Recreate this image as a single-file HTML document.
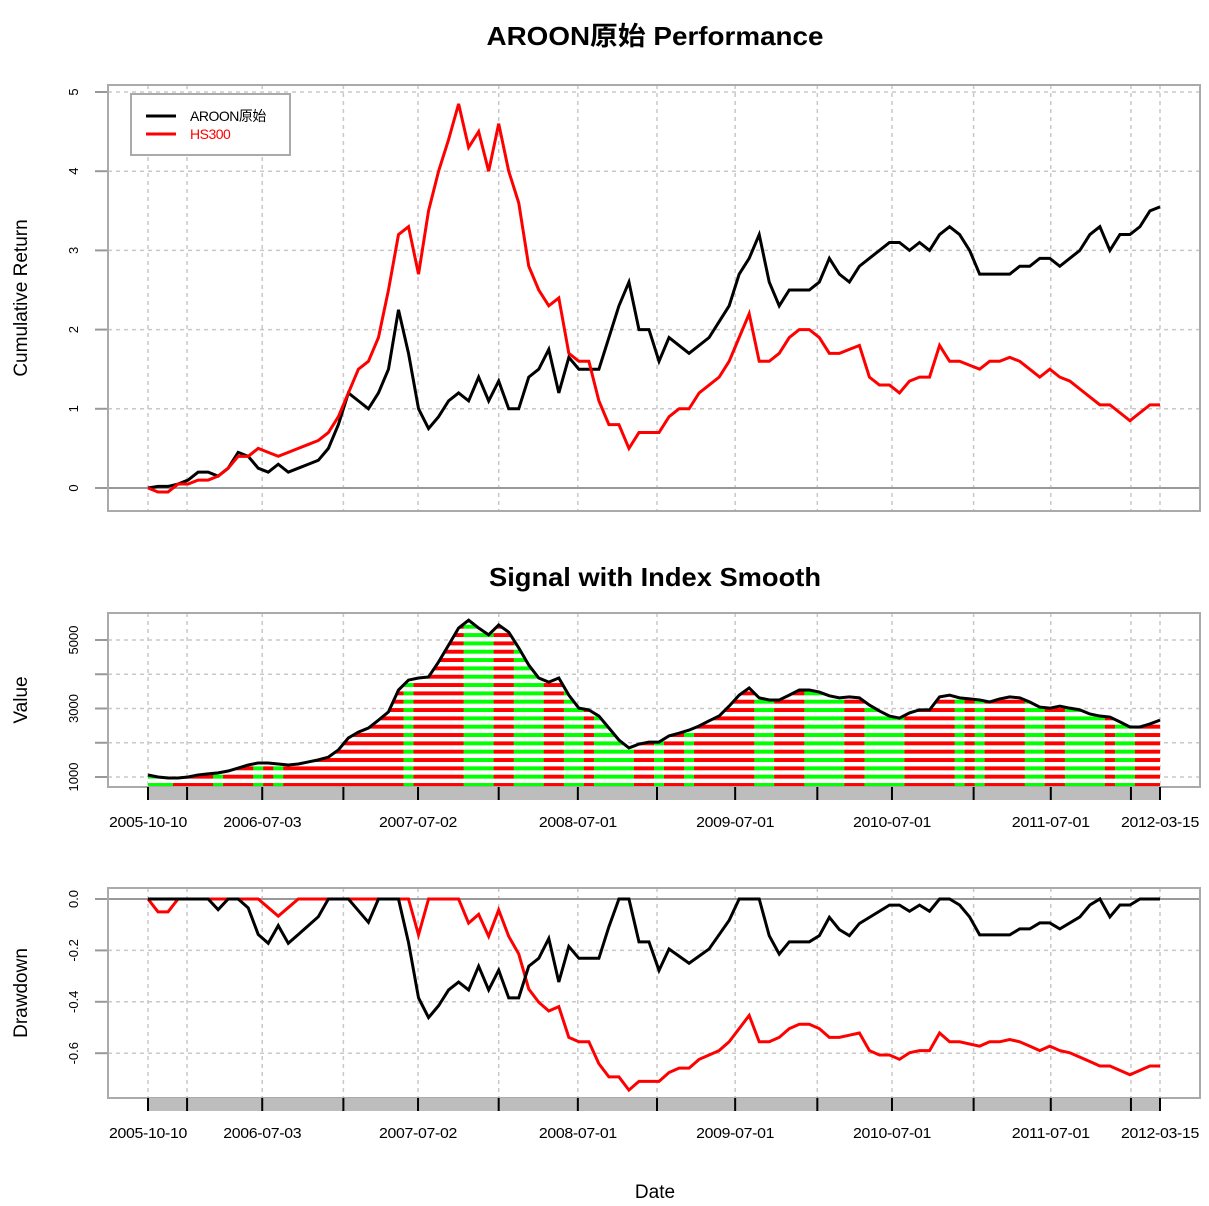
<!DOCTYPE html>
<html><head><meta charset="utf-8"><style>
body{margin:0;background:#fff}
svg{display:block;font-family:"Liberation Sans","Noto Sans CJK SC",sans-serif}
</style></head><body>
<svg id="c" width="1209" height="1206" viewBox="0 0 1209 1206"></svg>
<script>
const strategyReturn=[0,0.02,0.02,0.05,0.1,0.2,0.2,0.15,0.25,0.45,0.4,0.25,0.2,0.3,0.2,0.25,0.3,0.35,0.5,0.8,1.2,1.1,1.0,1.2,1.5,2.25,1.7,1.0,0.75,0.9,1.1,1.2,1.1,1.4,1.1,1.35,1.0,1.0,1.4,1.5,1.75,1.2,1.65,1.5,1.5,1.5,1.9,2.3,2.6,2.0,2.0,1.6,1.9,1.8,1.7,1.8,1.9,2.1,2.3,2.7,2.9,3.2,2.6,2.3,2.5,2.5,2.5,2.6,2.9,2.7,2.6,2.8,2.9,3.0,3.1,3.1,3.0,3.1,3.0,3.2,3.3,3.2,3.0,2.7,2.7,2.7,2.7,2.8,2.8,2.9,2.9,2.8,2.9,3.0,3.2,3.3,3.0,3.2,3.2,3.3,3.5,3.55];
const hs300Return=[0,-0.05,-0.05,0.05,0.05,0.1,0.1,0.15,0.25,0.4,0.4,0.5,0.45,0.4,0.45,0.5,0.55,0.6,0.7,0.9,1.2,1.5,1.6,1.9,2.5,3.2,3.3,2.7,3.5,4.0,4.4,4.85,4.3,4.5,4.0,4.6,4.0,3.6,2.8,2.5,2.3,2.4,1.7,1.6,1.6,1.1,0.8,0.8,0.5,0.7,0.7,0.7,0.9,1.0,1.0,1.2,1.3,1.4,1.6,1.9,2.2,1.6,1.6,1.7,1.9,2.0,2.0,1.9,1.7,1.7,1.75,1.8,1.4,1.3,1.3,1.2,1.35,1.4,1.4,1.8,1.6,1.6,1.55,1.5,1.6,1.6,1.65,1.6,1.5,1.4,1.5,1.4,1.35,1.25,1.15,1.05,1.05,0.95,0.85,0.95,1.05,1.05];
const indexSmooth=[1058,1000,970,970,1000,1060,1090,1120,1175,1260,1350,1410,1410,1380,1350,1380,1440,1500,1580,1790,2140,2310,2430,2660,2900,3540,3830,3890,3920,4360,4850,5350,5580,5350,5150,5440,5230,4770,4270,3890,3770,3890,3390,3010,2960,2780,2430,2080,1850,1960,2020,2020,2200,2280,2370,2490,2640,2780,3070,3390,3600,3310,3250,3250,3390,3540,3540,3480,3370,3310,3340,3310,3100,2930,2780,2720,2870,2960,2960,3340,3390,3310,3280,3250,3190,3280,3340,3310,3190,3040,3010,3070,3010,2960,2840,2780,2750,2610,2460,2460,2550,2660];
const signal=[0,0,0,1,1,1,1,0,1,1,1,0,1,0,1,1,1,1,1,1,1,1,1,1,1,1,0,1,1,1,1,1,0,0,0,1,1,0,0,0,1,1,0,0,1,0,0,0,0,1,1,0,1,1,0,1,1,1,1,1,1,0,0,1,1,1,0,0,0,0,1,1,0,0,0,0,1,1,1,1,1,0,1,0,1,1,1,1,0,0,1,1,0,0,0,0,1,0,0,1,1,1];
const tickDates=["2005-10-10","","2006-07-03","","2007-07-02","","2008-07-01","","2009-07-01","","2010-07-01","","2011-07-01","","2012-03-15"];
const tickIdx=[0,3.9,11.4,19.5,26.95,35.0,42.9,50.8,58.6,66.8,74.25,82.4,90.1,98.1,101];
const perfTicks=[0,1,2,3,4,5];
const idxTicks=[1000,2000,3000,4000,5000];
const idxTickLabels=["1000","","3000","","5000"];
const ddTicks=[0,-0.2,-0.4,-0.6];
const ddTickLabels=["0.0","-0.2","-0.4","-0.6"];

const NS="http://www.w3.org/2000/svg",S=document.getElementById('c');
function el(t,a,p){const e=document.createElementNS(NS,t);for(const k in a)e.setAttribute(k,a[k]);(p||S).appendChild(e);return e;}
const N=strategyReturn.length;
const X=i=>148+i*(1012/(N-1));
const L=108,R=1200;
const y1=v=>488-v*79.2;
const y2=v=>777-(v-1000)*0.03425;
const y3=v=>899+(-v)*257;
function dd(arr){let m=-1e9;return arr.map(v=>{m=Math.max(m,1+v);return (1+v)/m-1;});}
const ddStrat=dd(strategyReturn),ddHs=dd(hs300Return);

function txt(s,x,y,o,nm){const t=el('text',Object.assign({x:x,y:y,'text-anchor':'middle'},o||{}));t.textContent=s;return t;}
function vgrid(top,bot){tickIdx.forEach(i=>{const g=el('line',{x1:X(i),x2:X(i),y1:top,y2:bot,stroke:'#c8c8c8','stroke-dasharray':'4,4','stroke-width':1.5});});}
function hgrid(vals,f){vals.forEach(v=>{const y=f(v);const g=el('line',{x1:L,x2:R,y1:y,y2:y,stroke:'#c8c8c8','stroke-dasharray':'4,4','stroke-width':1.5});
const tk=el('line',{x1:95,x2:L,y1:y,y2:y,stroke:'#999','stroke-width':2});});}
function ylabels(vals,labels,f,nm){vals.forEach((v,k)=>{if(!labels[k])return;const y=f(v);txt(labels[k],0,0,{transform:`translate(78,${y}) rotate(-90)`,'font-size':13},nm);});}
function box(top,bot,nm){const b=el('rect',{x:L,y:top,width:R-L,height:bot-top,fill:'none',stroke:'#aaa','stroke-width':2});}
function line(vals,f,col,nm){const p=el('polyline',{points:vals.map((v,i)=>X(i)+','+f(v)).join(' '),fill:'none',stroke:col,'stroke-width':3,'stroke-linejoin':'miter'});}
function band(top,nm){const b=el('rect',{x:X(0),y:top,width:X(N-1)-X(0),height:13,fill:'#bdbdbd'});
tickIdx.forEach(i=>{const t=el('line',{x1:X(i),x2:X(i),y1:top,y2:top+13,stroke:'#000','stroke-width':2});});
tickIdx.forEach((i,k)=>{if(tickDates[k])txt(tickDates[k],X(i),top+40,{'font-size':15,'letter-spacing':'-0.3',textLength:78,lengthAdjust:'spacingAndGlyphs'},'x-tick-label');});}

// Titles
txt('AROON原始 Performance',655,45,{'font-size':26,'font-weight':'bold',textLength:337,lengthAdjust:'spacingAndGlyphs'},'chart-title');
txt('Cumulative Return',0,0,{transform:'translate(27,298) rotate(-90)','font-size':19},'y-axis-title-return');
txt('Signal with Index Smooth',655,586,{'font-size':26,'font-weight':'bold',textLength:332,lengthAdjust:'spacingAndGlyphs'},'signal-title');
txt('Value',0,0,{transform:'translate(27,700) rotate(-90)','font-size':19},'y-axis-title-value');
txt('Drawdown',0,0,{transform:'translate(27,993) rotate(-90)','font-size':19},'y-axis-title-drawdown');
txt('Date',655,1198,{'font-size':19},'x-axis-title');

// Panel 1
vgrid(85,511);hgrid(perfTicks,y1);ylabels(perfTicks,perfTicks.map(String),y1,'y-tick-label');
{const z=el('line',{x1:L,x2:R,y1:y1(0),y2:y1(0),stroke:'#999','stroke-width':2});}
line(strategyReturn,y1,'#000','strategy-line');
line(hs300Return,y1,'#f00','hs300-line');
box(85,511,'performance-plot-area');
{const lg=el('rect',{x:131,y:94,width:159,height:61,fill:'#fff',stroke:'#aaa','stroke-width':2});
const a=el('line',{x1:146,x2:176,y1:116,y2:116,stroke:'#000','stroke-width':3});
const b=el('line',{x1:146,x2:176,y1:134,y2:134,stroke:'#f00','stroke-width':3});
txt('AROON原始',190,121,{'text-anchor':'start','font-size':14,'letter-spacing':'-0.5'},'legend-entry-strategy');
txt('HS300',190,139,{'text-anchor':'start','font-size':14,fill:'#f00','letter-spacing':'-0.5'},'legend-entry-hs300');}

// Panel 2
vgrid(613,787);hgrid(idxTicks,y2);ylabels(idxTicks,idxTickLabels,y2,'y-tick-label');
{const cp=el('clipPath',{id:'ac'});const pts=[X(0)+',787'].concat(indexSmooth.map((v,i)=>X(i)+','+y2(v))).concat([X(N-1)+',787']);el('polygon',{points:pts.join(' ')},cp);
const g=el('g',{'clip-path':'url(#ac)'});
const w=1012/(N-1);
signal.forEach((s,i)=>{const r=el('rect',{x:X(i)-w/2,y:600,width:w+0.5,height:187,fill:s?'#f00':'#0f0'},g);});
for(let k=0;k<22;k++){const yc=785-(k+0.5)*8.33;el('rect',{x:140,y:yc-2.2,width:1030,height:4.4,fill:'#fff'},g);}
el('rect',{x:140,y:787,width:1030,height:5,fill:'#fff'},g);}
line(indexSmooth,y2,'#000','index-smooth-line');
box(613,787,'signal-plot-area');band(787,'signal-date-band');

// Panel 3
vgrid(888,1098);hgrid(ddTicks,y3);ylabels(ddTicks,ddTickLabels,y3,'y-tick-label');
{const z=el('line',{x1:L,x2:R,y1:y3(0),y2:y3(0),stroke:'#999','stroke-width':2});}
line(ddHs,y3,'#f00','hs300-drawdown-line');
line(ddStrat,y3,'#000','strategy-drawdown-line');
box(888,1098,'drawdown-plot-area');band(1098,'drawdown-date-band');
</script>
</body></html>
